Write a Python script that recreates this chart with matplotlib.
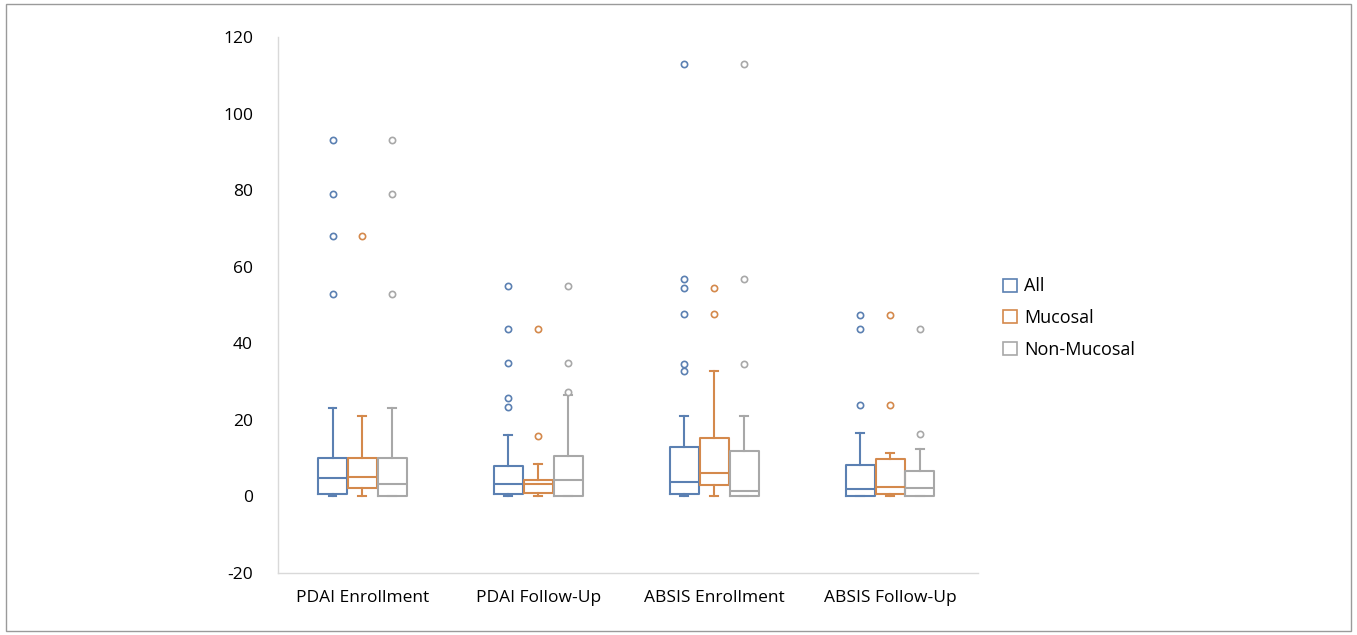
import numpy as np
import matplotlib
matplotlib.use("Agg")
import matplotlib.pyplot as plt
from matplotlib.patches import Patch, Rectangle

plt.rcParams['font.family'] = ['Open Sans', 'DejaVu Sans']
plt.rcParams['axes.unicode_minus'] = False

categories = ['PDAI Enrollment', 'PDAI Follow-Up', 'ABSIS Enrollment', 'ABSIS Follow-Up']
series = ['All', 'Mucosal', 'Non-Mucosal']
colors = ['#5B80B2', '#D4894C', '#A8A8A8']

# five-number summaries: (whislo, q1, med, q3, whishi)
all_stats = [(0, 0.7, 4.8, 10, 23), (0, 0.7, 3.2, 8, 16), (0, 0.6, 3.8, 12.8, 21), (0, 0, 1.9, 8.3, 16.5)]
mucosal_stats = [(0, 2.1, 5.1, 10, 21), (0, 0.9, 3.3, 4.4, 8.4), (0, 2.9, 6, 15.2, 32.8), (0, 0.6, 2.4, 9.8, 11.4)]
nonmucosal_stats = [(0, 0, 3.3, 10, 23), (0, 0, 4.3, 10.6, 26.5), (0, 0, 1.5, 11.9, 21), (0, 0, 2.1, 6.6, 12.5)]

# outliers
all_fliers = [[93, 79, 68, 53], [55, 43.7, 34.8, 25.8, 23.4], [113, 56.8, 54.5, 47.7, 34.7, 32.8], [47.4, 43.7, 23.9]]
mucosal_fliers = [[68], [43.7, 15.8], [54.5, 47.7], [47.4, 23.9]]
nonmucosal_fliers = [[93, 79, 53], [55, 34.8, 27.2], [113, 56.8, 34.7], [43.7, 16.2]]

stats_by_series = [all_stats, mucosal_stats, nonmucosal_stats]
fliers_by_series = [all_fliers, mucosal_fliers, nonmucosal_fliers]

fig = plt.figure(figsize=(13.57, 6.35), dpi=100)
ax = fig.add_axes([278 / 1357, 62 / 635, 700 / 1357, 536 / 635])

offsets = [-0.17, 0, 0.17]
x = np.arange(len(categories))
for s in range(len(series)):
    c = colors[s]
    bxp_stats = []
    for i in range(len(categories)):
        lo, q1, med, q3, hi = stats_by_series[s][i]
        bxp_stats.append(dict(whislo=lo, q1=q1, med=med, q3=q3, whishi=hi,
                              fliers=fliers_by_series[s][i]))
    ax.bxp(bxp_stats, positions=x + offsets[s], widths=0.165, showfliers=True,
           patch_artist=False, manage_ticks=False,
           boxprops=dict(color=c, linewidth=1.5),
           medianprops=dict(color=c, linewidth=1.5),
           whiskerprops=dict(color=c, linewidth=1.5),
           capprops=dict(color=c, linewidth=1.5),
           capwidths=0.045,
           flierprops=dict(marker='o', markersize=4.5, markerfacecolor='white',
                           markeredgecolor=c, markeredgewidth=1.2, linestyle='none'))

ax.set_xlim(-0.48, 3.5)
ax.set_ylim(-20, 120)
ax.set_yticks(np.arange(-20, 121, 20))
ax.set_xticks(x)
ax.set_xticklabels(categories, fontsize=12.5)
ax.tick_params(axis='y', labelsize=12.5, length=0, pad=18)
ax.tick_params(axis='x', length=0, pad=12)
for side in ['top', 'right']:
    ax.spines[side].set_visible(False)
for side in ['left', 'bottom']:
    ax.spines[side].set_color('#D9D9D9')
    ax.spines[side].set_linewidth(1.0)

handles = [Patch(facecolor='white', edgecolor=c, linewidth=1.2) for c in colors]
fig.legend(handles, series, loc='center left', bbox_to_anchor=(987 / 1357, 317 / 635),
           frameon=False, fontsize=13, handlelength=0.75, handleheight=0.75,
           handletextpad=0.4, labelspacing=0.75)

# thin frame around the whole picture
fig.patches.append(Rectangle((6 / 1357, 4 / 635), 1345 / 1357, 627 / 635,
                             transform=fig.transFigure, fill=False,
                             edgecolor='#9A9A9A', linewidth=1.0))

fig.savefig('out.png', dpi=100)
